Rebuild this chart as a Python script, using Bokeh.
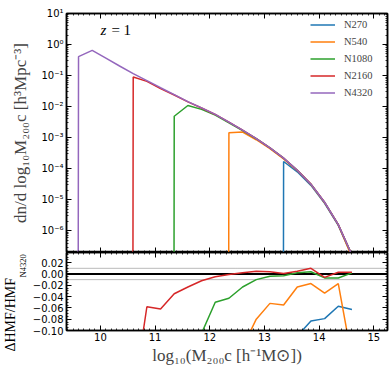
import numpy as np
from bokeh.plotting import figure
from bokeh.models import (Range1d, LinearAxis, LogAxis, FixedTicker, SingleIntervalTicker,
                          CustomJSTickFormatter, Legend, LegendItem, Span, Label, Title)
from bokeh.layouts import column
from bokeh.embed import file_html
from bokeh.resources import INLINE

# ---------------- data ----------------
log_m = [9.35, 9.60, 9.85, 10.10, 10.35, 10.60, 10.85, 11.10, 11.35, 11.60, 11.85,
         12.10, 12.35, 12.60, 12.85, 13.10, 13.35, 13.60, 13.85, 14.10, 14.35, 14.60]

# halo mass function of the reference run N4320 [h^3 Mpc^-3]
hmf_n4320 = [0.0, 0.407, 0.646, 0.363, 0.204, 0.115, 0.0692, 0.0407, 0.0245, 0.0145,
             0.00912, 0.00562, 0.00316, 0.00174, 9.33e-4, 4.68e-4, 2.19e-4, 8.91e-5,
             3.16e-5, 8.32e-6, 1.58e-6, 1.66e-7]

# relative difference to N4320 (-1 = empty bin)
d_n270 = [-1, -1, -1, -1, -1, -1, -1, -1, -1, -1, -1, -1, -1, -1, -1, -1,
          -0.22, -0.11, -0.083, -0.079, -0.057, -0.063]
d_n540 = [-1, -1, -1, -1, -1, -1, -1, -1, -1, -1, -1, -1,
          -0.54, -0.13, -0.080, -0.052, -0.055, -0.023, -0.017, -0.034, -0.017, -0.15]
d_n1080 = [-1, -1, -1, -1, -1, -1, -1, -1,
           -0.80, -0.25, -0.105, -0.050, -0.043, -0.023, -0.010, -0.004, -0.003,
           0.002, 0.004, -0.007, -0.007, 0.002]
d_n2160 = [-1, -1, -1, -1, -1,
           -0.22, -0.058, -0.062, -0.035, -0.023, -0.012, -0.005, -0.001, 0.002,
           0.005, 0.004, 0.001, 0.005, 0.010, -0.006, 0.003, 0.003]

names = ["N270", "N540", "N1080", "N2160", "N4320"]
colors = ["#1f77b4", "#ff7f0e", "#2ca02c", "#d62728", "#9467bd"]
deltas = [d_n270, d_n540, d_n1080, d_n2160, None]

x_ticks_major = [9, 10, 11, 12, 13, 14, 15, 16]
y_decades = [-6, -5, -4, -3, -2, -1, 0, 1]

# ---------------- helpers ----------------
SERIF = "Liberation Serif"
SANS = "DejaVu Sans"


def style_axis(ax, show_labels=True):
    ax.major_tick_in = 5
    ax.major_tick_out = 0
    ax.minor_tick_in = 2
    ax.minor_tick_out = 0
    ax.axis_line_width = 1.5
    ax.axis_line_color = "black"
    ax.major_tick_line_color = "black"
    ax.minor_tick_line_color = "black"
    ax.major_tick_line_width = 1
    ax.minor_tick_line_width = 0.8
    ax.major_label_text_font = SANS
    ax.major_label_text_font_size = "10px"
    ax.major_label_text_color = "black"
    ax.major_label_standoff = 3
    if not show_labels:
        ax.formatter = CustomJSTickFormatter(code="return '';")
        ax.major_label_text_font_size = "0px"
        ax.major_label_standoff = 0


def x_ticker():
    return FixedTicker(ticks=x_ticks_major,
                       minor_ticks=[t / 10 for t in range(90, 161)])


def log_ticker():
    return FixedTicker(ticks=[10.0 ** e for e in y_decades],
                       minor_ticks=[m * 10.0 ** e for e in range(-7, 1) for m in range(2, 10)])


log_fmt = CustomJSTickFormatter(code="""
const e = Math.round(Math.log10(tick));
const s = {"-":"\u207b","0":"\u2070","1":"\u00b9","2":"\u00b2","3":"\u00b3","4":"\u2074",
           "5":"\u2075","6":"\u2076","7":"\u2077","8":"\u2078","9":"\u2079"};
return "10" + String(e).split("").map(c => s[c]).join("");
""")

lin_fmt = CustomJSTickFormatter(code="""
if (Math.abs(tick) < 1e-9) return "0.00";
return (tick < 0 ? "\u2212" : "") + Math.abs(tick).toFixed(2);
""")

xr = Range1d(9.38, 15.25)

# ---------------- top panel ----------------
top = figure(frame_width=321, frame_height=239, x_range=xr, y_range=Range1d(2e-7, 10),
             y_axis_type="log", output_backend="svg", toolbar_location=None,
             min_border_left=62, min_border_right=7, min_border_top=13, min_border_bottom=0)
top.xgrid.visible = False
top.ygrid.visible = False
top.outline_line_color = "black"
top.outline_line_width = 1.5

hmf_ref = np.array(hmf_n4320)
renderers = []
for name, col, d in zip(names, colors, deltas):
    vals = hmf_ref if d is None else hmf_ref * (1.0 + np.array(d))
    vals = np.where(vals > 0, vals, 1e-300)  # empty bins clipped far below the axis
    r = top.line(log_m, vals, line_color=col, line_width=1.5)
    renderers.append(r)

xb = top.xaxis[0]
xb.ticker = x_ticker()
style_axis(xb, show_labels=False)

yl = top.yaxis[0]
yl.ticker = log_ticker()
yl.formatter = log_fmt
style_axis(yl)
yl.axis_label = "dn/d log\u2081\u2080M\u2082\u2080\u2080c [h\u00b3Mpc\u207b\u00b3]"
yl.axis_label_text_font = SERIF
yl.axis_label_text_font_style = "normal"
yl.axis_label_text_font_size = "17px"
yl.axis_label_standoff = 8

xt = LinearAxis(ticker=x_ticker())
style_axis(xt, show_labels=False)
top.add_layout(xt, "above")
yr = LogAxis(ticker=log_ticker())
style_axis(yr, show_labels=False)
top.add_layout(yr, "right")

legend = Legend(items=[LegendItem(label=n, renderers=[r]) for n, r in zip(names, renderers)],
                location="top_right", border_line_color=None, background_fill_alpha=0,
                label_text_font=SERIF, label_text_font_size="10.5px",
                glyph_width=25, glyph_height=17, label_height=17, label_width=40,
                spacing=0, label_standoff=9, padding=6, margin=3)
top.add_layout(legend)

top.add_layout(Label(x=10.0, y=3.05, text="z", text_font=SERIF, text_font_style="italic",
                     text_font_size="15px", text_baseline="middle", text_color="black"))
top.add_layout(Label(x=10.0, y=3.05, x_offset=11, text="= 1", text_font=SERIF,
                     text_font_size="15px", text_baseline="middle", text_color="black"))

# ---------------- bottom panel ----------------
bot = figure(frame_width=321, frame_height=78, x_range=xr, y_range=Range1d(-0.10, 0.038),
             output_backend="svg", toolbar_location=None,
             min_border_left=62, min_border_right=7, min_border_top=0, min_border_bottom=45)
bot.xgrid.visible = False
bot.ygrid.visible = False
bot.outline_line_color = "black"
bot.outline_line_width = 1.5

bot.add_layout(Span(location=0.0, dimension="width", line_color="black", line_width=2,
                    level="underlay"))
for loc in (0.01, -0.01):
    bot.add_layout(Span(location=loc, dimension="width", line_color="#555555",
                        line_width=0.8, line_dash="1 1", level="underlay"))

for name, col, d in zip(names[:-1], colors[:-1], deltas[:-1]):
    bot.line(log_m, d, line_color=col, line_width=1.5)

bx = bot.xaxis[0]
bx.ticker = x_ticker()
style_axis(bx)
bx.major_label_standoff = 2
bx.axis_label = "log\u2081\u2080(M\u2082\u2080\u2080c [h\u207b\u00b9M\u2299])"
bx.axis_label_text_font = SERIF
bx.axis_label_text_font_style = "normal"
bx.axis_label_text_font_size = "17px"
bx.axis_label_standoff = 2

by = bot.yaxis[0]
by.ticker = SingleIntervalTicker(interval=0.02, num_minor_ticks=4)
by.formatter = lin_fmt
style_axis(by)

bt = LinearAxis(ticker=x_ticker())
style_axis(bt, show_labels=False)
bot.add_layout(bt, "above")
br = LinearAxis(ticker=SingleIntervalTicker(interval=0.02, num_minor_ticks=4))
style_axis(br, show_labels=False)
bot.add_layout(br, "right")

# y label of the residual panel: subscript panel (next to the axis), then main text
bot.add_layout(Title(text="N4320", align="left", offset=53, standoff=0,
                     vertical_align="top", text_font=SERIF, text_font_style="normal",
                     text_font_size="8.5px", text_color="black"), "left")
bot.add_layout(Title(text="\u0394HMF/HMF", align="left", offset=-21, standoff=0,
                     vertical_align="bottom", text_font=SERIF, text_font_style="normal",
                     text_font_size="14px", text_color="black"), "left")

layout = column(top, bot, spacing=0)
open("out.html", "w").write(file_html(layout, INLINE))
